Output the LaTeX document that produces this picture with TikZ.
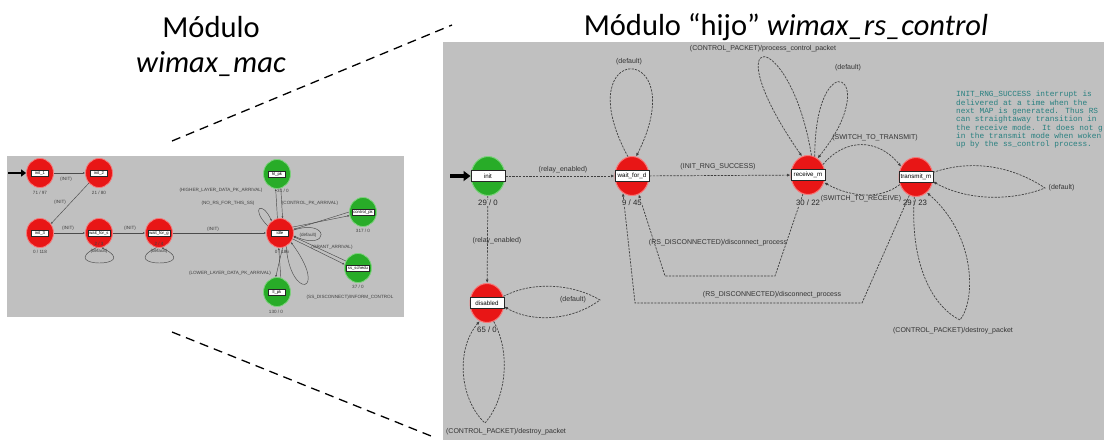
\documentclass[tikz,border=0pt]{standalone}
\usepackage{fontspec}
\setmainfont{Carlito}
\newfontfamily\lab{Liberation Sans}
\newfontfamily\monof{Liberation Mono}
\usetikzlibrary{shapes.geometric,arrows.meta}
\definecolor{pgray}{RGB}{192,192,192}
\definecolor{sred}{RGB}{232,22,22}
\definecolor{sredb}{RGB}{246,120,120}
\definecolor{sgreen}{RGB}{40,172,40}
\definecolor{sgreenb}{RGB}{125,210,125}
\definecolor{tealnote}{RGB}{40,128,128}
\definecolor{lnk}{RGB}{75,75,75}
\begin{document}
\begin{tikzpicture}[x=1pt,y=-1pt,
  rstate/.style={ellipse,minimum width=34pt,minimum height=39pt,inner sep=0pt,fill=sred,draw=sredb,line width=1pt},
  gstate/.style={rstate,fill=sgreen,draw=sgreenb},
  stbox/.style={rectangle,fill=white,draw=black!85,line width=0.5pt,minimum width=34pt,minimum height=11pt,inner sep=0pt,font=\lab\fontsize{6.2}{7}\selectfont},
  cntlab/.style={font=\lab\fontsize{7.8}{9}\selectfont,text=black!85,inner sep=0.5pt},
  trlab/.style={font=\lab\fontsize{7}{8}\selectfont,text=black!80,inner sep=0.5pt},
  trline/.style={draw=black!75,line width=0.7pt,dash pattern=on 2.2pt off 1.2pt,-{Latex[length=3.5pt,width=3pt]}},
  lrstate/.style={ellipse,minimum width=27pt,minimum height=29pt,inner sep=0pt,fill=sred,draw=sredb,line width=0.8pt},
  lgstate/.style={lrstate,fill=sgreen,draw=sgreenb},
  lbox/.style={rectangle,fill=white,draw=black!85,line width=0.4pt,minimum width=17pt,minimum height=6pt,inner xsep=1.5pt,inner ysep=0pt,font=\lab\fontsize{4.2}{5}\selectfont},
  llab/.style={font=\lab\fontsize{4.6}{5}\selectfont,text=black!75,inner sep=0.3pt},
  lline/.style={draw=lnk,line width=0.45pt,-{Latex[length=2pt,width=2pt]}},
  zoomline/.style={draw=black,line width=1.3pt,dash pattern=on 9pt off 6pt},
  ttl/.style={font=\fontsize{30.5}{33}\selectfont,inner sep=0pt}
]
\useasboundingbox (0,0) rectangle (1104,440);
\fill[white] (0,0) rectangle (1104,440);
% panels
\fill[pgray] (7,156) rectangle (404,317);
\fill[pgray] (443,42) rectangle (1104,440);
% titles
\node[ttl] (t1) at (211,27) {Módulo};
\node[ttl] (t2) at (211,64) {\itshape wimax\_mac};
\node[ttl] (t3) at (786,27) {Módulo “hijo” \itshape wimax\_rs\_control};
% zoom lines
\coordinate (za) at (172,141);
\coordinate (zb) at (452,25);
\coordinate (zc) at (172,332);
\coordinate (zd) at (436,438);
\draw[zoomline] (za) -- (zb);
\draw[zoomline] (zc) -- (zd);

% ================= right panel =================
\node[gstate] (init) at (488,176) {};
\node[rstate] (wait) at (632,176) {};
\node[rstate] (recv) at (808,175) {};
\node[rstate] (trans) at (916,177) {};
\node[rstate] (dis) at (487,303) {};
\node[stbox] (initb) at (init) {init};
\node[stbox] (waitb) at (wait) {wait\_for\_d};
\node[stbox] (recvb) at (recv) {receive\_m};
\node[stbox] (transb) at (trans) {transmit\_m};
\node[stbox] (disb) at (dis) {disabled};

\coordinate (ia) at (450,176);
\draw[line width=3.6pt,-{Triangle[length=7pt,width=10pt]}] (ia) -- (init.west);

% transitions
\draw[trline] (init) -- (wait);
\draw[trline] (wait) -- (recv);
\draw[trline] (wait.102) .. controls (565,40) and (695,40) .. (wait.78);
\draw[trline] (recv.80) .. controls (790,24) and (710,24) .. (recv.108);
\draw[trline] (recv.70) .. controls (815,40) and (885,75) .. (recv.60);
\draw[trline] (recv.35) .. controls (845,138) and (878,138) .. (trans.145);
\draw[trline] (trans.205) .. controls (880,200) and (850,197) .. (recv.-25);
\coordinate (ttip) at (1045,188);
\draw[trline] (trans.15) .. controls (975,158) and (1015,168) .. (ttip) .. controls (1010,202) and (965,200) .. (trans.-15);
\coordinate (btip) at (960,320);
\draw[trline] (trans.-95) .. controls (910,260) and (930,305) .. (btip) .. controls (976,300) and (976,235) .. (trans.-55);
\coordinate (rd1) at (775,276);
\coordinate (rd2) at (665,276);
\draw[trline] (recv.-105) -- (rd1) -- (rd2) -- (wait.-70);
\coordinate (rd3) at (862,303);
\coordinate (rd4) at (635,303);
\draw[trline] (trans.-110) -- (rd3) -- (rd4) -- (wait.-118);
\draw[trline] (init) -- (dis);
\coordinate (dtip) at (600,300);
\draw[trline] (dis.22) .. controls (535,280) and (575,285) .. (dtip) .. controls (570,322) and (530,322) .. (dis.-12);
\coordinate (dbtip) at (485,423);
\draw[trline] (dis.-70) .. controls (512,355) and (505,400) .. (dbtip) .. controls (460,400) and (455,350) .. (dis.-112);

% counts
\node[cntlab,fill=pgray] (initc) at (488,203) {29 / 0};
\node[cntlab,fill=pgray] (waitc) at (632,203) {9 / 45};
\node[cntlab,fill=pgray] (recvc) at (808,203) {30 / 22};
\node[cntlab] (transc) at (915,203) {29 / 23};
\node[cntlab,fill=pgray] (disc) at (487,330) {65 / 0};

% transition labels
\node[trlab] (l1) at (563,170) {(relay\_enabled)};
\node[trlab] (l2) at (629,62) {(default)};
\node[trlab] (l3) at (718,167) {(INIT\_RNG\_SUCCESS)};
\node[trlab] (l4) at (763,49) {(CONTROL\_PACKET)/process\_control\_packet};
\node[trlab] (l5) at (848,68) {(default)};
\node[trlab] (l6) at (875,138) {(SWITCH\_TO\_TRANSMIT)};
\node[trlab] (l7) at (861,199) {(SWITCH\_TO\_RECEIVE)};
\node[trlab,anchor=west] (l8) at (1048,188) {(default)};
\node[trlab] (l9) at (953,331) {(CONTROL\_PACKET)/destroy\_packet};
\node[trlab] (l10) at (718,243) {(RS\_DISCONNECTED)/disconnect\_process};
\node[trlab] (l11) at (772,295) {(RS\_DISCONNECTED)/disconnect\_process};
\node[trlab] (l12) at (497,241) {(relay\_enabled)};
\node[trlab] (l13) at (573,300) {(default)};
\node[trlab] (l14) at (506,432) {(CONTROL\_PACKET)/destroy\_packet};
\node[anchor=north west,align=left,inner sep=0pt,text=tealnote,font=\monof\fontsize{7.8}{8.3}\selectfont] (note) at (956,91)
 {INIT\_RNG\_SUCCESS interrupt is\\delivered at a time when the\\next MAP is generated. Thus RS\\can straightaway transition in\\the receive mode. It does not g\\in the transmit mode when woken\\up by the ss\_control process.};

% ================= left panel =================
\node[lrstate] (i1) at (40,173) {};
\node[lrstate] (i2) at (99,173) {};
\node[lrstate] (i3) at (40,233) {};
\node[lrstate] (wfs) at (99,233) {};
\node[lrstate] (wfg) at (159,233) {};
\node[lrstate] (idle) at (280,233) {};
\node[lgstate] (hlpk) at (277,174) {};
\node[lgstate] (ctrl) at (363,212) {};
\node[lgstate] (sss) at (358,268) {};
\node[lgstate] (llpk) at (277,292) {};
\node[lbox] (i1b) at (i1) {init\_1};
\node[lbox] (i2b) at (i2) {init\_2};
\node[lbox] (i3b) at (i3) {init\_3};
\node[lbox] (wfsb) at (wfs) {wait\_for\_s};
\node[lbox] (wfgb) at (wfg) {wait\_for\_g};
\node[lbox] (idleb) at (idle) {idle};
\node[lbox] (hlpkb) at (hlpk) {hl\_pk};
\node[lbox] (ctrlb) at (ctrl) {control\_pk};
\node[lbox] (sssb) at (sss) {ss\_schedu};
\node[lbox] (llpkb) at (llpk) {ll\_pk};

\coordinate (lia) at (8,173);
\draw[line width=2.6pt,-{Triangle[length=5pt,width=7pt]}] (lia) -- (i1.west);
\draw[lline] (i1) -- (i2);
\draw[lline] (i2.225) -- (i3.40);
\draw[lline] (i3) -- (wfs);
\draw[lline] (wfs) -- (wfg);
\draw[lline] (wfg) -- (idle);
\draw[lline] (idle.100) -- (hlpk.265);
\draw[lline] (hlpk.285) -- (idle.80);
\draw[lline] (idle.25) -- (ctrl.195);
\draw[lline] (ctrl.180) -- (idle.15);
\draw[lline] (idle.-25) -- (sss.165);
\draw[lline] (sss.150) -- (idle.-15);
\draw[lline] (idle.-80) -- (llpk.95);
\draw[lline] (llpk.75) -- (idle.-95);
\draw[lline] (wfs.-100) .. controls (55,268) and (143,268) .. (wfs.-80);
\draw[lline] (wfg.-100) .. controls (115,268) and (203,268) .. (wfg.-80);
\draw[lline] (idle.150) .. controls (250,208) and (262,200) .. (idle.125);
\draw[lline] (idle.12) .. controls (330,218) and (330,252) .. (idle.-12);
\draw[lline] (idle.-65) .. controls (290,300) and (330,295) .. (idle.-40);

\node[llab] (c1) at (40,193) {71 / 97};
\node[llab] (c2) at (99,193) {21 / 80};
\node[llab] (c3) at (40,252) {0 / 118};
\node[llab] (c4) at (99,244) {2 / 3};
\node[llab] (c4d) at (99,251) {(default)};
\node[llab] (c5) at (159,244) {2 / 4};
\node[llab] (c5d) at (159,251) {(default)};
\node[llab] (c6) at (282,252) {0 / 186};
\node[llab] (c7) at (283,191) {31 / 0};
\node[llab] (c8) at (363,231) {317 / 0};
\node[llab] (c9) at (358,287) {37 / 0};
\node[llab] (c10) at (276,312) {130 / 0};
\node[llab] (a1) at (66,179) {(INIT)};
\node[llab] (a2) at (60,202) {(INIT)};
\node[llab] (a3) at (68,228) {(INIT)};
\node[llab] (a4) at (130,228) {(INIT)};
\node[llab] (a5) at (213,229) {(INIT)};
\node[llab] (a6) at (221,190) {(HIGHER\_LAYER\_DATA\_PK\_ARRIVAL)};
\node[llab] (a7) at (228,203) {(NO\_RS\_FOR\_THIS\_SS)};
\node[llab] (a8) at (310,203) {(CONTROL\_PK\_ARRIVAL)};
\node[llab] (a9) at (308,235) {(default)};
\node[llab] (a10) at (332,247) {(GRANT\_ARRIVAL)};
\node[llab] (a11) at (230,273) {(LOWER\_LAYER\_DATA\_PK\_ARRIVAL)};
\node[llab] (a12) at (350,297) {(SS\_DISCONNECT)/INFORM\_CONTROL};
\end{tikzpicture}
\end{document}
